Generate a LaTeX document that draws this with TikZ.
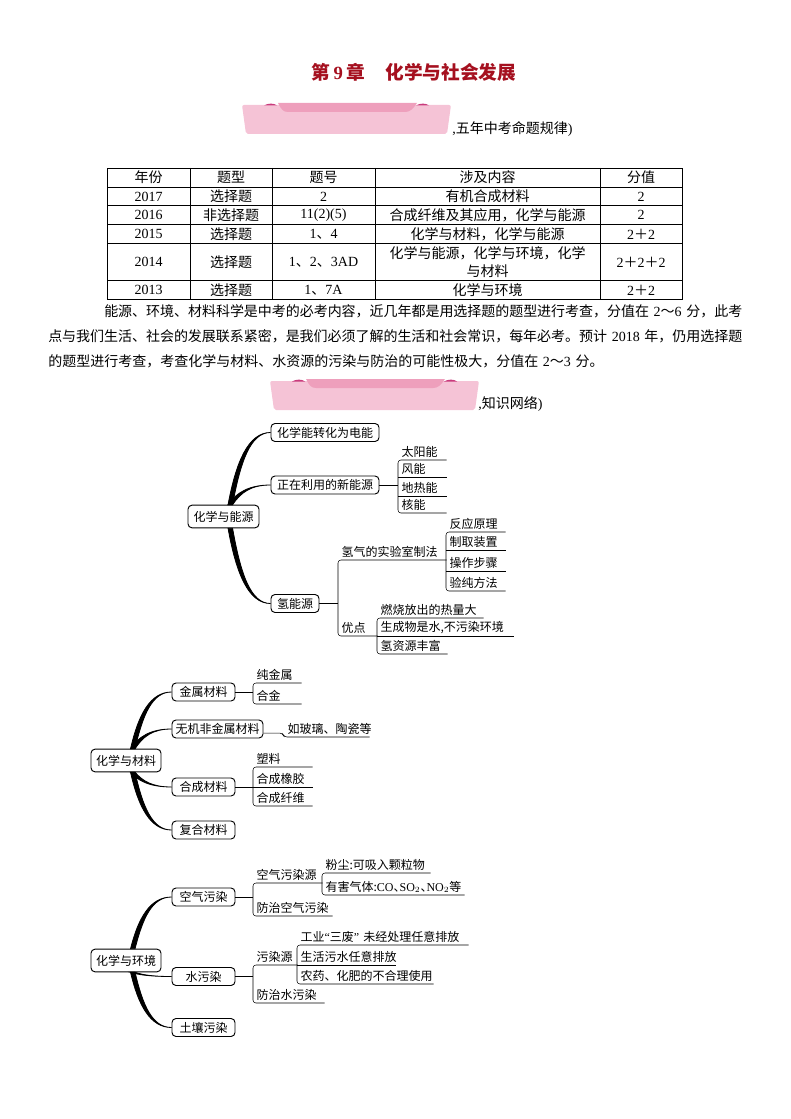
\documentclass[tikz,border=0pt]{standalone}
\usepackage{fontspec}
\setmainfont{Noto Sans CJK SC}
\newfontfamily\latinfont{Liberation Serif}
\usepackage{xcolor}
\usetikzlibrary{calc}
\definecolor{titlered}{HTML}{A5101F}
\definecolor{bannerpink}{HTML}{F5C3D6}
\definecolor{bannerdark}{HTML}{EE9FBC}
\definecolor{bannerear}{HTML}{C93B7C}
\newcommand{\lat}[1]{{\latinfont #1}}
\newcommand{\zc}{^^^^ff0c}
\newcommand{\zp}{^^^^ff0b}
\newcommand{\zt}{^^^^ff5e}
\newcommand{\branch}[2]{\filldraw[line width=0.6pt] let \p1=(#1),\p2=(#2) in (\x1-1.7pt,\y1) .. controls (.8*\x1+.2*\x2-1.7pt,.4*\y1+.6*\y2) and (.55*\x1+.45*\x2,\y2) .. (\p2) .. controls (.55*\x1+.45*\x2+1.5pt,\y2) and (.8*\x1+.2*\x2+1.7pt,.4*\y1+.6*\y2) .. (\x1+1.7pt,\y1) -- cycle;}
\newcommand{\bracketline}[2]{\draw[rounded corners=2.2pt] (#1.south east) -- (#1.south west) -- (#2.south west) -- (#2.south east);}
\newcommand{\underl}[1]{\draw (#1.south west) -- (#1.south east);}
\newcommand{\stem}[2]{\draw[line width=0.7pt] (#1.east) -- (#1.east -| #2.south west);}
\tikzset{
    banner/.pic={
        \fill[bannerpink,rounded corners=1.5pt] (0,2) -- (209,2) -- (205,31) -- (4,31) -- cycle;
        \fill[bannerdark] (36,0) -- (175,0) .. controls (171,6) and (168,9) .. (163,9) -- (46,9) .. controls (41,9) and (39,6) .. (36,0);
        \fill[bannerear] (22,2.5) .. controls (26,0) and (32,0) .. (35,2.5) -- cycle;
        \fill[bannerear] (174,2.5) .. controls (178,0) and (184,0) .. (187,2.5) -- cycle;
    },
    body/.style={inner sep=0pt,font=\fontsize{10.5}{13.5}\selectfont},
    cell/.style={body,align=center},
    mapbox/.style={draw,line width=0.7pt,rounded corners=3pt,inner sep=0pt,minimum height=13.5pt,minimum width=#1*0.75pt,font=\fontsize{9}{9}\selectfont},
    rootbox/.style={mapbox=#1,minimum height=17pt},
    leaf/.style={anchor=south west,inner xsep=2.5pt,inner ysep=1.5pt,text width=#1*0.75pt-5pt,align=left,font=\fontsize{9}{9}\selectfont},
}
\begin{document}
\begin{tikzpicture}[x=0.75pt,y=-0.75pt]
    \useasboundingbox (0,0) rectangle (790,1119);
    \node[font=\fontsize{14}{14}\selectfont\bfseries,text=titlered] (title) at (414,72) {第\,\lat{9}\,章\hspace{1.1em}化学与社会发展};
    \pic at (242,103) {banner};
    \node[body,anchor=west] (rule) at (452,129) {\lat{,}五年中考命题规律\lat{)}};
    % table
    \draw[line width=0.6pt] (107,168) rectangle (682,299);
    \foreach \yy in {187,205,224,243,280} {\draw[line width=0.6pt] (107,\yy) -- (682,\yy);}
    \foreach \xx in {190,272,375,600} {\draw[line width=0.6pt] (\xx,168) -- (\xx,299);}
    \foreach \row/\yy/\year/\kind/\num/\what/\score in {
        a/177.5/年份/题型/题号/涉及内容/分值,
        b/196.5/\lat{2017}/选择题/\lat{2}/有机合成材料/\lat{2},
        c/215/\lat{2016}/非选择题/\lat{11(2)(5)}/合成纤维及其应用\zc 化学与能源/\lat{2},
        d/234/\lat{2015}/选择题/\lat{1}、\lat{4}/化学与材料\zc 化学与能源/\lat{2}\zp\lat{2},
        e/262/\lat{2014}/选择题/\lat{1}、\lat{2}、\lat{3AD}/{化学与能源\zc 化学与环境\zc 化学\\与材料}/\lat{2}\zp\lat{2}\zp\lat{2},
        f/290/\lat{2013}/选择题/\lat{1}、\lat{7A}/化学与环境/\lat{2}\zp\lat{2}} {
        \node[cell] (year\row) at (148.5,\yy) {\year};
        \node[cell] (kind\row) at (231,\yy) {\kind};
        \node[cell] (num\row) at (323.5,\yy) {\num};
        \node[cell] (what\row) at (487.5,\yy) {\what};
        \node[cell] (score\row) at (641,\yy) {\score};
    }
    \pic at (270,379) {banner};
    \node[body,anchor=west] (net) at (478,404) {\lat{,}知识网络\lat{)}};
    % energy
    \node[rootbox=71] (energy) at (223.5,516.5) {化学与能源};
    \node[mapbox=108] (battery) at (325,432.5) {化学能转化为电能};
    \node[mapbox=108] (newenergy) at (325,485) {正在利用的新能源};
    \node[mapbox=48] (hydrogen) at (295,603.5) {氢能源};
    \branch{energy.60}{battery.west}
    \branch{energy.60}{newenergy.west}
    \branch{energy.-60}{hydrogen.west}
    \node[leaf=48] (sun) at (398,460) {太阳能};
    \node[leaf=48] (wind) at (398,477) {风能};
    \node[leaf=48] (geo) at (398,496) {地热能};
    \node[leaf=48] (nuclear) at (398,513) {核能};
    \stem{newenergy}{sun}
    \bracketline{sun}{nuclear}
    \underl{wind}
    \underl{geo}
    \node[leaf=108] (lab) at (338,560) {氢气的实验室制法};
    \node[leaf=39] (merit) at (338,636) {优点};
    \stem{hydrogen}{lab}
    \bracketline{lab}{merit}
    \node[leaf=59] (theory) at (446,532) {反应原理};
    \node[leaf=59] (device) at (446,550) {制取装置};
    \node[leaf=59] (steps) at (446,571) {操作步骤};
    \node[leaf=59] (check) at (446,591) {验纯方法};
    \bracketline{theory}{check}
    \underl{device}
    \underl{steps}
    \node[leaf=106] (heat) at (377,618) {燃烧放出的热量大};
    \node[leaf=136] (water) at (377,636) {生成物是水,不污染环境};
    \node[leaf=70] (rich) at (377,654) {氢资源丰富};
    \bracketline{heat}{rich}
    \underl{water}
    % materials
    \node[rootbox=70] (material) at (126,760.5) {化学与材料};
    \node[mapbox=63] (metal) at (203.5,692) {金属材料};
    \node[mapbox=91] (inorganic) at (217.5,729) {无机非金属材料};
    \node[mapbox=63] (synth) at (203.5,787) {合成材料};
    \node[mapbox=63] (composite) at (203.5,830) {复合材料};
    \branch{material.60}{metal.west}
    \branch{material.60}{inorganic.west}
    \branch{material.-60}{synth.west}
    \branch{material.-60}{composite.west}
    \node[leaf=48] (puremetal) at (253,683) {纯金属};
    \node[leaf=48] (alloy) at (253,704) {合金};
    \stem{metal}{puremetal}
    \bracketline{puremetal}{alloy}
    \node[leaf=85] (glass) at (284,737) {如玻璃、陶瓷等};
    \draw[rounded corners=2.2pt] (inorganic.-5) -- ++(19,0) -- (glass.south west) -- (glass.south east);
    \node[leaf=59] (plastic) at (253,767) {塑料};
    \node[leaf=59] (rubber) at (253,787) {合成橡胶};
    \node[leaf=59] (fiber) at (253,806) {合成纤维};
    \stem{synth}{plastic}
    \bracketline{plastic}{fiber}
    \underl{rubber}
    % environment
    \node[rootbox=70] (environ) at (126,960.5) {化学与环境};
    \node[mapbox=63] (air) at (203.5,897) {空气污染};
    \node[mapbox=63] (waterpol) at (203.5,976.5) {水污染};
    \node[mapbox=63] (soil) at (203.5,1027.5) {土壤污染};
    \branch{environ.60}{air.west}
    \branch{environ.-60}{waterpol.west}
    \branch{environ.-60}{soil.west}
    \node[leaf=69] (airsource) at (253,883) {空气污染源};
    \node[leaf=79] (airguard) at (253,916) {防治空气污染};
    \stem{air}{airsource}
    \bracketline{airsource}{airguard}
    \node[leaf=108] (dust) at (322,873) {粉尘:可吸入颗粒物};
    \node[leaf=142] (gas) at (322,895) {有害气体:\lat{CO}、\kern-4.5pt\lat{SO$_2$}、\kern-4.5pt\lat{NO$_2$}等};
    \bracketline{dust}{gas}
    \node[leaf=44] (watersource) at (253,965) {污染源};
    \node[leaf=71] (waterguard) at (253,1003) {防治水污染};
    \stem{waterpol}{watersource}
    \bracketline{watersource}{waterguard}
    \node[leaf=171] (waste) at (297,945) {工业\lat{“}三废\lat{”} 未经处理任意排放};
    \node[leaf=98] (sewage) at (297,965) {生活污水任意排放};
    \node[leaf=136] (pesticide) at (297,984) {农药、化肥的不合理使用};
    \bracketline{waste}{pesticide}
    \underl{sewage}
    % last, the line breaking setting stays on
    \node[anchor=north west,inner sep=0pt,text width=694*0.75pt,font=\fontsize{10.5}{18.75}\selectfont] (summary) at (48,304) {\XeTeXlinebreaklocale "zh"\XeTeXlinebreakskip=0pt plus 1pt minus 0.5pt\relax
        \hspace*{42pt}能源、环境、材料科学是中考的必考内容\zc 近几年都是用选择题的题型进行考查\zc 分值在 \lat{2}\zt\lat{6} 分\zc 此考\linebreak
        点与我们生活、社会的发展联系紧密\zc 是我们必须了解的生活和社会常识\zc 每年必考。预计 \lat{2018} 年\zc 仍用选择题\linebreak
        的题型进行考查\zc 考查化学与材料、水资源的污染与防治的可能性极大\zc 分值在 \lat{2}\zt\lat{3} 分。\par};
\end{tikzpicture}
\end{document}
